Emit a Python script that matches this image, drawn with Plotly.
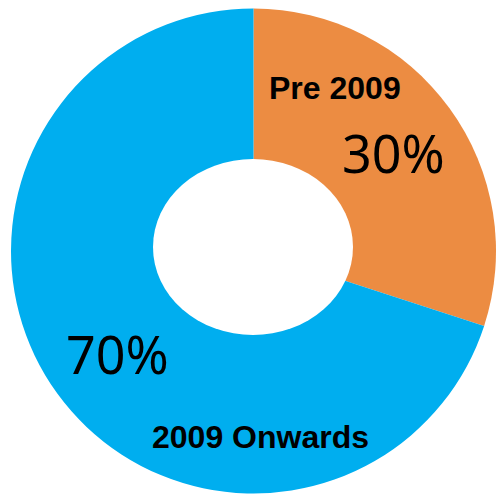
import plotly.graph_objects as go

labels = ["Pre 2009", "2009 Onwards"]
values = [30, 70]
colors = ["#EC8C42", "#00AEEF"]
pct_text = ["30%", "70%"]

W, H = 496, 495

fig = go.Figure(go.Pie(
    labels=labels,
    values=values,
    marker=dict(colors=colors, line=dict(width=0)),
    sort=False,
    direction="clockwise",
    rotation=0,
    textinfo="none",
    hoverinfo="label+percent",
    domain=dict(x=[11 / W, 1.0], y=[1 / H, 487 / H]),
    showlegend=False,
))

# elliptical hole
fig.add_shape(type="circle", xref="paper", yref="paper",
              x0=153 / W, x1=353 / W, y0=1 - 335 / H, y1=1 - 159 / H,
              fillcolor="white", line=dict(width=0), layer="above")

def px(x, y):
    return x / W, 1 - y / H

label_pos = [(335, 88), (260, 437)]
pct_pos = [(393, 152), (117, 353)]
for lab, (x, y) in zip(labels, label_pos):
    ax, ay = px(x, y)
    fig.add_annotation(x=ax, y=ay, xref="paper", yref="paper", text="<b>%s</b>" % lab,
                       showarrow=False, xanchor="center", yanchor="middle",
                       font=dict(family="Liberation Sans, Arial", size=32, color="black"))
for t, (x, y) in zip(pct_text, pct_pos):
    ax, ay = px(x, y)
    fig.add_annotation(x=ax, y=ay, xref="paper", yref="paper", text=t,
                       showarrow=False, xanchor="center", yanchor="middle",
                       font=dict(family="Noto Sans", size=52, color="black"))

fig.update_layout(width=W, height=H, margin=dict(l=0, r=0, t=0, b=0),
                  paper_bgcolor="white", plot_bgcolor="white")
fig.write_html("out.html")
